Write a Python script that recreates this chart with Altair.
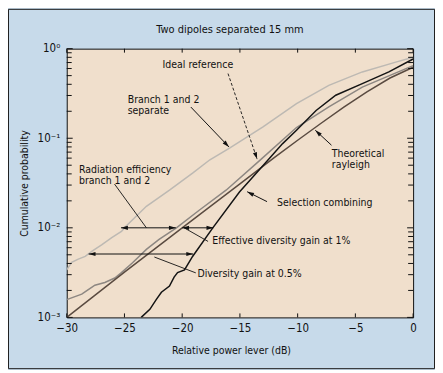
import math
import altair as alt
import pandas as pd

# ---------------- text ----------------
TITLE = "Two dipoles separated 15 mm"
X_TITLE = "Relative power lever (dB)"
Y_TITLE = "Cumulative probability"
FONT = "DejaVu Sans Condensed, Roboto, sans-serif"
FS = 10.5

# ---------------- series ----------------
series_names = ["Branch 1 and 2 separate", "Ideal reference",
                "Theoretical rayleigh", "Selection combining"]
series_colors = ["#bdb9b3", "#8d8782", "#5a4b41", "#141414"]

sep_db = [-30, -29.57, -29.0, -28.4, -27.8, -26.98, -26.1, -25.26, -24.85, -23.1,
          -21.1, -19.1, -17.6, -15.9, -13.0, -10.1, -7.3, -4.4, -1.5, 0]
sep_p = [0.00339, 0.00412, 0.00447, 0.00479, 0.0055, 0.00646, 0.00776, 0.00912,
         0.0105, 0.0174, 0.0263, 0.0407, 0.0575, 0.0776, 0.134, 0.243, 0.389,
         0.550, 0.708, 0.80]

ideal_db = [-30, -28.7, -28.13, -27.56, -26.7, -25.84, -25.26, -24.3, -23.1, -22.0,
            -20.5, -18.5, -16.2, -13.3, -10.1, -7.3, -4.4, 0]
ideal_p = [0.00158, 0.00182, 0.00204, 0.00229, 0.00245, 0.00275, 0.00316, 0.00407,
           0.00575, 0.00741, 0.0100, 0.0158, 0.0263, 0.0562, 0.1318, 0.2239,
           0.3715, 0.6457]

ray_db = [-30, -25, -20, -15, -12, -10, -8, -6, -4, -2, 0]
ray_p = [0.001, 0.0032, 0.0100, 0.031, 0.061, 0.095, 0.146, 0.222, 0.33, 0.47, 0.62]

sel_db = [-23.55, -22.8, -22.25, -21.8, -21.1, -20.7, -20.4, -19.8, -19.1, -17.35,
          -15.04, -13.3, -11.3, -10.1, -8.4, -6.7, -4.4, -2.1, 0]
sel_p = [0.001, 0.00123, 0.00158, 0.00191, 0.00224, 0.00282, 0.00316, 0.00339,
         0.00479, 0.0100, 0.0251, 0.0447, 0.0871, 0.123, 0.204, 0.302, 0.407,
         0.550, 0.767]

# ---------------- axes ----------------
x_ticks = [-30, -25, -20, -15, -10, -5, 0]
y_major = [0.001, 0.01, 0.1, 1]
y_minor = [k * 10.0 ** e for e in (-3, -2, -1) for k in range(2, 10)]

# ---------------- annotations ----------------
ann_labels = ["Ideal reference", "Branch 1 and 2\nseparate", "Theoretical\nrayleigh",
              "Radiation efficiency\nbranch 1 and 2",
              "Selection combining", "Effective diversity gain at 1%",
              "Diversity gain at 0.5%"]
ann_db = [-21.70, -24.72, -7.04, -28.94, -11.78, -17.39, -18.68]
ann_p = [0.659, 0.269, 0.0659, 0.0441, 0.0188, 0.00705, 0.00306]

# pointer arrows (head at the "to" end)
arr_from_db = [-19.25, -7.07, -12.65]
arr_from_p = [0.223, 0.0836, 0.0196]
arr_to_db = [-15.95, -8.47, -14.37]
arr_to_p = [0.080, 0.1227, 0.0253]
# dashed pointer (ideal reference)
dash_from_db = [-16.03]
dash_from_p = [0.527]
dash_to_db = [-13.51]
dash_to_p = [0.0585]
# double-headed gain arrows
gain_p = [0.01, 0.01, 0.0051]
gain_db1 = [-25.3, -20.0, -28.1]
gain_db2 = [-20.55, -17.3, -19.05]
# leader lines without heads
lead_from_db = [-25.86, -19.83, -22.41]
lead_from_p = [0.0308, 0.01, 0.00472]
lead_to_db = [-23.10, -17.76, -18.82]
lead_to_p = [0.01, 0.00705, 0.00314]

# ---------------- layout ----------------
W, H = 348, 270
PAD = {"left": 59, "top": 40, "right": 22, "bottom": 52}


def px(db):
    return (db + 30) / 30 * W


def py(p):
    return -math.log10(p) / 3 * H


def head_angle(d1, p1, d2, p2):
    dx = px(d2) - px(d1)
    dy = py(p2) - py(p1)
    return math.degrees(math.atan2(dx, -dy)) % 360


rows = []
for name, dbs, ps in zip(series_names, [sep_db, ideal_db, ray_db, sel_db],
                         [sep_p, ideal_p, ray_p, sel_p]):
    for i, (d, p) in enumerate(zip(dbs, ps)):
        rows.append({"series": name, "db": d, "p": p, "i": i})
curves = pd.DataFrame(rows)

xs = alt.Scale(domain=[-30, 0], nice=False, zero=False)
ys = alt.Scale(type="log", domain=[0.001, 1], nice=False)

x_axis = alt.Axis(values=x_ticks, ticks=False, domain=False, grid=False,
                  labelFont=FONT, labelFontSize=11.5, labelColor="#111",
                  labelPadding=5, title=X_TITLE, titleFont=FONT,
                  titleFontSize=FS, titleFontWeight="normal", titleColor="#111",
                  titleX=165, titleY=33, titleBaseline="middle",
                  titleAlign="center", labelFlush=False)
y_axis = alt.Axis(values=y_major, ticks=False, domain=False, grid=False,
                  labelExpr="datum.value >= 0.5 ? '10\u2070' : datum.value >= 0.05 ? '10\u207b\u00b9' : datum.value >= 0.005 ? '10\u207b\u00b2' : '10\u207b\u00b3'",
                  labelFont=FONT, labelFontSize=11.5, labelColor="#111",
                  labelPadding=7, labelFlush=False, title=Y_TITLE,
                  titleFont=FONT, titleFontSize=FS, titleFontWeight="normal",
                  titleColor="#111", titleX=-42, titleY=135, titleAngle=270,
                  titleBaseline="middle", titleAlign="center")


def X(f):
    return alt.X(f, type="quantitative", scale=xs, axis=x_axis)


def Y(f):
    return alt.Y(f, type="quantitative", scale=ys, axis=y_axis)


lines = alt.Chart(curves).mark_line(clip=True, strokeWidth=1.5).encode(
    x=X("db"), y=Y("p"),
    color=alt.Color("series:N", scale=alt.Scale(domain=series_names, range=series_colors),
                    legend=None),
    order=alt.Order("i:Q"),
)

xt = pd.DataFrame({"db": x_ticks})
tick_b = alt.Chart(xt).mark_rule(color="#111", strokeWidth=1).encode(
    x=X("db"), y=alt.value(H), y2=alt.value(H - 4))
tick_t = alt.Chart(xt).mark_rule(color="#111", strokeWidth=1).encode(
    x=X("db"), y=alt.value(0), y2=alt.value(4))
ymaj = pd.DataFrame({"p": y_major})
ymin = pd.DataFrame({"p": y_minor})
tick_l1 = alt.Chart(ymaj).mark_rule(color="#111").encode(y=Y("p"), x=alt.value(0), x2=alt.value(6))
tick_l2 = alt.Chart(ymin).mark_rule(color="#111").encode(y=Y("p"), x=alt.value(0), x2=alt.value(5))
tick_r1 = alt.Chart(ymaj).mark_rule(color="#111").encode(y=Y("p"), x=alt.value(W), x2=alt.value(W - 6))
tick_r2 = alt.Chart(ymin).mark_rule(color="#111").encode(y=Y("p"), x=alt.value(W), x2=alt.value(W - 5))

ann = pd.DataFrame({"label": ann_labels, "db": ann_db, "p": ann_p})
texts = alt.Chart(ann).mark_text(align="left", baseline="middle", font=FONT,
                                 fontSize=FS, color="#111", lineBreak="\n",
                                 lineHeight=11).encode(
    x=X("db"), y=Y("p"), text="label:N")

arrows = pd.DataFrame({"db": arr_from_db, "p": arr_from_p,
                       "db2": arr_to_db, "p2": arr_to_p})
dashed = pd.DataFrame({"db": dash_from_db, "p": dash_from_p,
                       "db2": dash_to_db, "p2": dash_to_p})
gains = pd.DataFrame({"db": gain_db1, "p": gain_p, "db2": gain_db2, "p2": gain_p})
leads = pd.DataFrame({"db": lead_from_db, "p": lead_from_p,
                      "db2": lead_to_db, "p2": lead_to_p})


def segs(df, dash=None, width=1.0):
    kw = {"color": "#111", "strokeWidth": width}
    if dash:
        kw["strokeDash"] = dash
    return alt.Chart(df).mark_rule(**kw).encode(
        x=X("db"), y=Y("p"), x2="db2:Q", y2="p2:Q")


heads = []
for d1, p1, d2, p2 in zip(arr_from_db + dash_from_db, arr_from_p + dash_from_p,
                          arr_to_db + dash_to_db, arr_to_p + dash_to_p):
    heads.append({"db": d2, "p": p2, "a": head_angle(d1, p1, d2, p2)})
for p, d1, d2 in zip(gain_p, gain_db1, gain_db2):
    heads.append({"db": d1, "p": p, "a": 270.0})
    heads.append({"db": d2, "p": p, "a": 90.0})
heads = pd.DataFrame(heads)
ARROW = "M0,0L0.7,2.3L-0.7,2.3Z"
head_marks = alt.Chart(heads).mark_point(shape=ARROW, filled=True, size=36,
                                         color="#111", opacity=1).encode(
    x=X("db"), y=Y("p"), angle=alt.Angle("a:Q", scale=None))

dummy = pd.DataFrame({"k": [0]})
title = alt.Chart(dummy).mark_text(font=FONT, fontSize=11, color="#111",
                                   align="center", baseline="middle").encode(
    x=alt.value(164), y=alt.value(-19), text=alt.value(TITLE))
frame = alt.Chart(dummy).mark_rect(filled=False, color="#1e1e1e", strokeWidth=1).encode(
    x=alt.value(-58.5), x2=alt.value(W + PAD["right"] - 0.5),
    y=alt.value(-39.5), y2=alt.value(H + PAD["bottom"] - 0.5))

chart = alt.layer(
    lines, segs(arrows), segs(dashed, dash=[3, 2], width=0.9), segs(gains),
    segs(leads, width=0.9), head_marks, texts,
    tick_b, tick_t, tick_l1, tick_l2, tick_r1, tick_r2, title, frame,
).properties(
    width=W, height=H, padding=PAD, autosize="none", background="#c7daea",
).configure_view(fill="#f0dfcc", stroke="#111", strokeWidth=1)

chart.save("out.html", embed_options={"renderer": "svg", "actions": False})
